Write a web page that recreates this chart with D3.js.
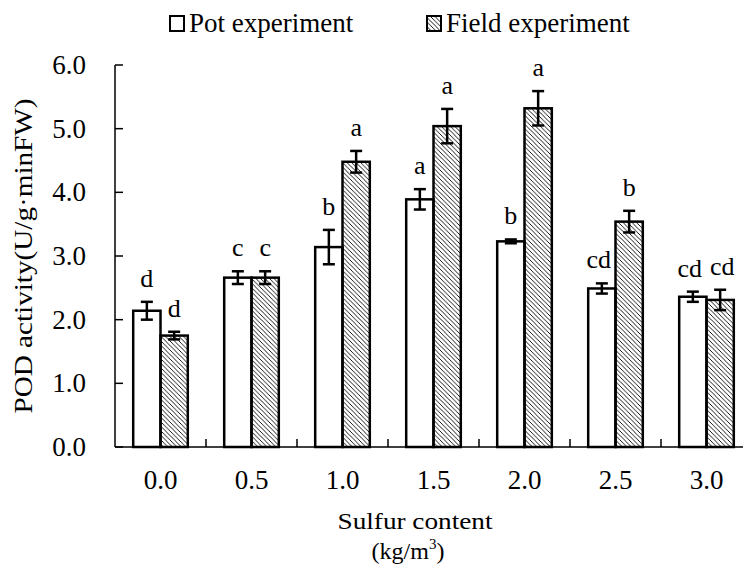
<!DOCTYPE html>
<html>
<head>
<meta charset="utf-8">
<script src="https://cdn.jsdelivr.net/npm/d3@7"></script>
<style>
  body { margin: 0; background: #fff; }
</style>
</head>
<body>
<svg></svg>
<script>
const width = 743;
const height = 565;
const serif = "'Liberation Serif'";

// data
const sulfur = ["0.0", "0.5", "1.0", "1.5", "2.0", "2.5", "3.0"];
const series = ["Pot experiment", "Field experiment"];
const potMean = [2.14, 2.66, 3.14, 3.89, 3.23, 2.49, 2.36];
const potErr = [0.14, 0.10, 0.27, 0.16, 0.03, 0.08, 0.08];
const potLetter = ["d", "c", "b", "a", "b", "cd", "cd"];
const fieldMean = [1.75, 2.66, 4.48, 5.04, 5.32, 3.54, 2.31];
const fieldErr = [0.06, 0.10, 0.17, 0.27, 0.27, 0.17, 0.16];
const fieldLetter = ["d", "c", "a", "a", "a", "b", "cd"];
const yTicks = [0, 1, 2, 3, 4, 5, 6];

const plotLeft = 115, plotRight = 752, plotTop = 65, plotBottom = 447;

const rows = [];
sulfur.forEach((s, i) => {
  rows.push({ g: s, k: series[0], v: potMean[i], e: potErr[i], t: potLetter[i] });
  rows.push({ g: s, k: series[1], v: fieldMean[i], e: fieldErr[i], t: fieldLetter[i] });
});

const x = d3.scaleBand().domain(sulfur).range([plotLeft, plotRight]).paddingInner(0.4).paddingOuter(0.2);
const xOuter = d3.scaleBand().domain(sulfur).range([plotLeft, plotRight]);
const xs = d3.scaleBand().domain(series).range([0, x.bandwidth()]);
const y = d3.scaleLinear().domain([0, 6]).range([plotBottom, plotTop]);

const svg = d3.select("svg").attr("width", width).attr("height", height);

const defs = svg.append("defs");
defs.append("pattern")
  .attr("id", "hatch")
  .attr("patternUnits", "userSpaceOnUse")
  .attr("width", 4.5).attr("height", 4.5)
  .append("path")
  .attr("d", "M-1,-1 l6.5,6.5 M-1,3.5 l2,2 M3.5,-1 l2,2")
  .attr("stroke", "#000")
  .attr("stroke-width", 0.9);

const fill = k => k === series[0] ? "#fff" : "url(#hatch)";

// bars
svg.append("g")
  .selectAll("rect")
  .data(rows)
  .join("rect")
  .attr("x", d => x(d.g) + xs(d.k))
  .attr("y", d => y(d.v))
  .attr("width", xs.bandwidth())
  .attr("height", d => y(0) - y(d.v))
  .attr("fill", d => fill(d.k))
  .attr("stroke", "#000")
  .attr("stroke-width", 2.5);

// error bars
const eb = svg.append("g").attr("stroke", "#000").attr("stroke-width", 2.5);
rows.forEach(d => {
  const cx = x(d.g) + xs(d.k) + xs.bandwidth() / 2;
  eb.append("line").attr("x1", cx).attr("x2", cx).attr("y1", y(d.v + d.e)).attr("y2", y(d.v - d.e));
  eb.append("line").attr("x1", cx - 6).attr("x2", cx + 6).attr("y1", y(d.v + d.e)).attr("y2", y(d.v + d.e));
  eb.append("line").attr("x1", cx - 6).attr("x2", cx + 6).attr("y1", y(d.v - d.e)).attr("y2", y(d.v - d.e));
});

// significance letters
svg.append("g")
  .selectAll("text")
  .data(rows)
  .join("text")
  .attr("x", d => x(d.g) + xs(d.k) + xs.bandwidth() / 2 + (d.t.length > 1 ? (d.k === series[0] ? -3 : 2) : 0))
  .attr("y", d => y(d.v + d.e) - 15)
  .attr("text-anchor", "middle")
  .style("font-family", serif)
  .style("font-size", "26px")
  .text(d => d.t);

// axes
const yAxis = d3.axisLeft(y).tickValues(yTicks).tickFormat(d3.format(".1f")).tickSize(0).tickPadding(29);
const gy = svg.append("g").attr("transform", `translate(${plotLeft},0)`).call(yAxis);
gy.select(".domain").remove();
gy.attr("font-family", null);
gy.selectAll("text").style("font-family", serif).style("font-size", "27px").attr("fill", "#000");
svg.append("g")
  .selectAll("line")
  .data(yTicks)
  .join("line")
  .attr("x1", plotLeft).attr("x2", plotLeft + 8)
  .attr("y1", d => y(d)).attr("y2", d => y(d))
  .attr("stroke", "#000").attr("stroke-width", 1.5);
svg.append("line")
  .attr("x1", plotLeft).attr("x2", plotLeft).attr("y1", y(6)).attr("y2", y(0))
  .attr("stroke", "#000").attr("stroke-width", 1.5);

const xAxis = d3.axisBottom(x).tickSize(0).tickPadding(23);
const gx = svg.append("g").attr("transform", `translate(0,${plotBottom})`).call(xAxis);
gx.select(".domain").remove();
gx.attr("font-family", null);
gx.selectAll("text").style("font-family", serif).style("font-size", "27px").attr("fill", "#000");
svg.append("line")
  .attr("x1", plotLeft).attr("x2", plotRight).attr("y1", plotBottom).attr("y2", plotBottom)
  .attr("stroke", "#000").attr("stroke-width", 1.5);
svg.append("g")
  .selectAll("line")
  .data(sulfur.slice(1))
  .join("line")
  .attr("x1", d => xOuter(d)).attr("x2", d => xOuter(d))
  .attr("y1", plotBottom).attr("y2", plotBottom - 8)
  .attr("stroke", "#000").attr("stroke-width", 1.5);

// axis titles
svg.append("text")
  .attr("x", 415).attr("y", 529)
  .attr("text-anchor", "middle")
  .attr("textLength", 155)
  .attr("lengthAdjust", "spacingAndGlyphs")
  .style("font-family", serif)
  .style("font-size", "24px")
  .text("Sulfur content");
const unit = svg.append("text")
  .attr("x", 408).attr("y", 559)
  .attr("text-anchor", "middle")
  .style("font-family", serif)
  .style("font-size", "24px");
unit.append("tspan").text("(kg/m");
unit.append("tspan").attr("dy", -10).style("font-size", "15px").text("3");
unit.append("tspan").attr("dy", 10).text(")");

svg.append("text")
  .attr("transform", "translate(32,256) rotate(-90)")
  .attr("text-anchor", "middle")
  .attr("textLength", 315)
  .attr("lengthAdjust", "spacingAndGlyphs")
  .style("font-family", serif)
  .style("font-size", "25px")
  .text("POD activity(U/g\u00b7minFW)");

// legend
const legend = svg.append("g");
const legendX = [170, 427];
series.forEach((s, i) => {
  legend.append("rect")
    .attr("x", legendX[i]).attr("y", 16)
    .attr("width", 14).attr("height", 15)
    .attr("fill", fill(s))
    .attr("stroke", "#000").attr("stroke-width", 2);
  legend.append("text")
    .attr("x", legendX[i] + 19).attr("y", 32)
    .style("font-family", serif)
    .style("font-size", "27px")
    .text(s);
});
</script>
</body>
</html>
